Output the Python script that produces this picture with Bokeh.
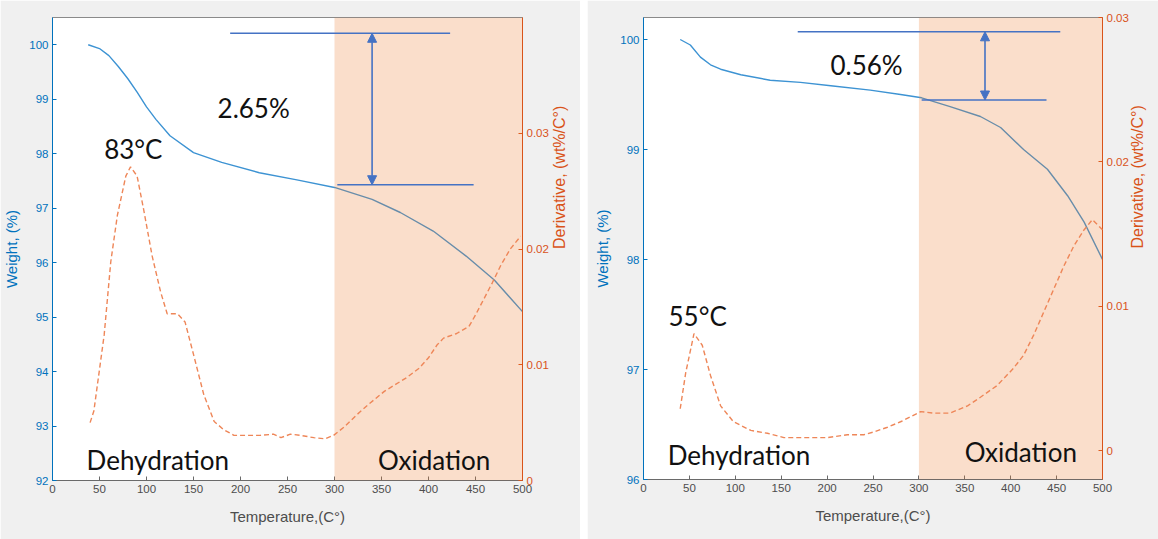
import math
from bokeh.plotting import figure
from bokeh.models import Range1d, LinearAxis, FixedTicker, Label, Arrow, NormalHead, BoxAnnotation
from bokeh.layouts import row
from bokeh.embed import file_html
from bokeh.resources import INLINE

# ---------------- data ----------------
x_ticks = [0, 50, 100, 150, 200, 250, 300, 350, 400, 450, 500]

# left panel (TGA, 2.65 %)
left_T = [38, 50, 60, 70, 80, 90, 100, 110, 125, 150, 180, 220, 260, 300, 340, 370, 405, 440, 470, 500]
left_W = [100.0, 99.93, 99.8, 99.6, 99.38, 99.13, 98.86, 98.63, 98.33, 98.02, 97.84, 97.65, 97.52, 97.38,
          97.16, 96.92, 96.58, 96.12, 95.68, 95.1]
left_dT = [40, 44, 55, 62, 69, 78, 83, 90, 97, 106, 115, 122, 133, 141, 150, 161, 172, 182, 193, 207,
           221, 235, 243, 253, 264, 278, 290, 299, 310, 324, 338, 353, 365, 377, 390, 400, 409, 416, 430, 443,
           450, 459, 468, 477, 487, 498]
left_D = [0.0050, 0.0060, 0.0126, 0.0189, 0.0229, 0.0263, 0.0271, 0.0263, 0.0234, 0.0194,
          0.0163, 0.0144, 0.0144, 0.0137, 0.0109, 0.0074, 0.0051, 0.0044, 0.0039, 0.0039,
          0.0039, 0.0040, 0.0037, 0.0040, 0.0039, 0.0037, 0.0036, 0.0039, 0.0046, 0.0057,
          0.0067, 0.0077, 0.0083, 0.0089, 0.0097, 0.0106, 0.0117, 0.0123, 0.0127, 0.0133,
          0.0143, 0.0157, 0.0171, 0.0186, 0.0200, 0.0211]
left_w_ticks = [92, 93, 94, 95, 96, 97, 98, 99, 100]
left_d_ticks = [0, 0.01, 0.02, 0.03]
left_w_range = (92, 100.5)
left_d_range = (0, 0.04)
left_lines_x0 = [189, 303]
left_lines_x1 = [423, 448]
left_lines_y = [100.21, 97.43]
left_arrow_x = 340
left_text = ["2.65%", "83°C", "Dehydration", "Oxidation"]
left_text_x = [214, 86, 112, 406]
left_text_y = [98.83, 98.09, 92.37, 92.37]

# right panel (TGA, 0.56 %)
right_T = [40, 51, 62, 73, 84, 106, 138, 171, 204, 247, 280, 303, 334, 367, 389, 414, 440, 462, 480, 500]
right_W = [100.0, 99.95, 99.84, 99.77, 99.73, 99.68, 99.63, 99.61, 99.58, 99.54, 99.5, 99.47, 99.39,
           99.30, 99.2, 99.0, 98.82, 98.58, 98.34, 98.0]
right_dT = [40, 46, 55, 64, 73, 84, 98, 117, 135, 153, 178, 200, 222, 240, 251, 265, 280, 302, 316, 334,
            353, 367, 385, 403, 414, 425, 436, 447, 458, 469, 480, 489, 500]
right_D = [0.0029, 0.0054, 0.0081, 0.0073, 0.0052, 0.0031, 0.0020, 0.0014, 0.0012, 0.0009,
           0.0009, 0.0009, 0.0011, 0.0011, 0.0013, 0.0016, 0.0020, 0.0027, 0.0026, 0.0026,
           0.0031, 0.0037, 0.0045, 0.0057, 0.0066, 0.0080, 0.0096, 0.0112, 0.0128, 0.0142,
           0.0153, 0.0160, 0.0153]
right_w_ticks = [96, 97, 98, 99, 100]
right_d_ticks = [0, 0.01, 0.02, 0.03]
right_w_range = (96, 100.2)
right_d_range = (-0.002, 0.03)
right_lines_x0 = [168, 303]
right_lines_x1 = [454, 439]
right_lines_y = [100.07, 99.45]
right_arrow_x = 372
right_text = ["0.56%", "55°C", "Dehydration", "Oxidation"]
right_text_x = [243, 59, 104, 411]
right_text_y = [99.77, 97.49, 96.22, 96.25]

oxidation_start = 300
oxidation_end = 500

# ---------------- style ----------------
BLUE_AX = "#0072BD"
ORANGE_AX = "#D95319"
LINE_BLUE = "#3d93d3"
DASH = "#ee8658"
ANN = "#4472C4"
GRAY = "#4d4d4d"
BG = "#f0f0f0"
TICK_FONT = "Liberation Sans"
ANN_FONT = "Lato"


def style_axis(ax, color, label_color=None):
    ax.axis_line_color = color
    ax.major_tick_line_color = color
    ax.major_tick_in = 4
    ax.major_tick_out = 0
    ax.minor_tick_line_color = None
    ax.major_label_text_color = label_color or color
    ax.major_label_text_font = TICK_FONT
    ax.major_label_text_font_size = "11.5px"
    ax.major_label_standoff = 4
    ax.axis_label_text_font = TICK_FONT
    ax.axis_label_text_font_style = "normal"
    ax.axis_label_text_font_size = "15px"
    ax.axis_label_text_color = label_color or color
    ax.axis_label_standoff = 6


def panel(T, W, dT, D, w_range, w_ticks, d_range, d_ticks, lx0, lx1, ly, arrow_x,
          texts, tx, ty, fw, fh, borders, r_standoff):
    p = figure(frame_width=fw, frame_height=fh, x_range=Range1d(0, 500), y_range=Range1d(*w_range),
               output_backend="svg", toolbar_location=None,
               min_border_left=borders[0], min_border_right=borders[1],
               min_border_top=borders[2], min_border_bottom=borders[3],
               border_fill_color=BG, background_fill_color="white",
               outline_line_color="#8a8a8a")
    p.grid.visible = False
    p.extra_y_ranges = {"d": Range1d(*d_range)}

    # axes
    xa = p.xaxis[0]
    xa.ticker = FixedTicker(ticks=x_ticks)
    style_axis(xa, "#6a6a6a", GRAY)
    xa.axis_label = "Temperature,(C°)"
    xa.axis_label_standoff = 12

    ya = p.yaxis[0]
    ya.ticker = FixedTicker(ticks=w_ticks)
    style_axis(ya, BLUE_AX)
    ya.axis_label = "Weight, (%)"

    ra = LinearAxis(y_range_name="d", ticker=FixedTicker(ticks=d_ticks))
    style_axis(ra, ORANGE_AX)
    ra.major_label_overrides = {t: ("0" if t == 0 else f"{t:g}") for t in d_ticks}
    ra.axis_label = "Derivative, (wt%/C°)"
    ra.axis_label_text_font_size = "16px"
    ra.axis_label_standoff = r_standoff
    try:
        ra.axis_label_orientation = math.pi / 2
    except Exception:
        pass
    p.add_layout(ra, "right")

    # weight curve (under the shaded box)
    p.line(T, W, line_color=LINE_BLUE, line_width=1.4)

    # oxidation region
    p.add_layout(BoxAnnotation(left=oxidation_start, right=oxidation_end,
                               fill_color="#ED7D31", fill_alpha=0.25, line_color=None))

    # derivative curve
    p.line(dT, D, y_range_name="d", line_color=DASH, line_width=1.4, line_dash="5 3", level="overlay")

    # annotation lines and arrow
    p.segment(x0=lx0, y0=ly, x1=lx1, y1=ly, line_color=ANN, line_width=1.6, level="overlay")
    p.add_layout(Arrow(start=NormalHead(size=9, fill_color=ANN, line_color=ANN),
                       end=NormalHead(size=9, fill_color=ANN, line_color=ANN),
                       x_start=arrow_x, y_start=ly[0], x_end=arrow_x, y_end=ly[1],
                       line_color=ANN, line_width=1.6, level="overlay"))

    for s, x, y in zip(texts, tx, ty):
        p.add_layout(Label(x=x, y=y, text=s, text_font=ANN_FONT, text_font_size="26px",
                           text_color="#111111", text_align="center", text_baseline="middle",
                           level="overlay"))
    return p


p1 = panel(left_T, left_W, left_dT, left_D, left_w_range, left_w_ticks, left_d_range, left_d_ticks,
           left_lines_x0, left_lines_x1, left_lines_y, left_arrow_x,
           left_text, left_text_x, left_text_y, 470, 463, (52, 58, 17, 59), 8)
p2 = panel(right_T, right_W, right_dT, right_D, right_w_range, right_w_ticks, right_d_range, right_d_ticks,
           right_lines_x0, right_lines_x1, right_lines_y, right_arrow_x,
           right_text, right_text_x, right_text_y, 459, 462, (56, 56, 17, 60), 6)

layout = row(p1, p2, spacing=7)
open("out.html", "w").write(file_html(layout, INLINE))
